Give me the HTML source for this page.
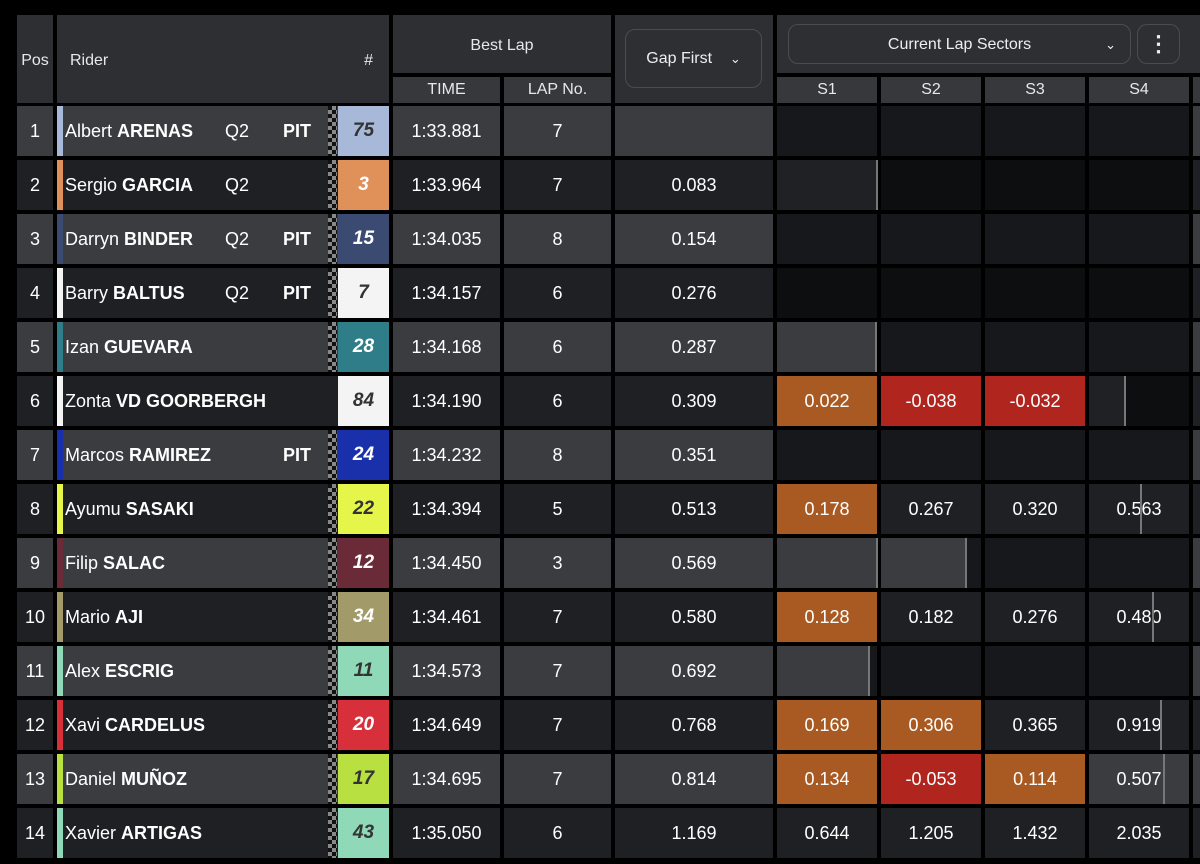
<!DOCTYPE html>
<html><head><meta charset="utf-8"><style>
*{margin:0;padding:0;box-sizing:border-box}
body{width:1200px;height:864px;background:#000;position:relative;overflow:hidden;font-family:"Liberation Sans",sans-serif;color:#fff}
.c{position:absolute;display:flex;align-items:center;justify-content:center;font-size:18px}
.h{background:#2d2f33;font-size:16px;color:#e8e8e8}
.hs{background:#36383c;font-size:16px;color:#e8e8e8}
.btn{position:absolute;border:1.5px solid #4a4c50;border-radius:10px;display:flex;align-items:center;justify-content:center;font-size:16px;color:#eee}
b{font-weight:700}
.num{font-style:italic;font-weight:700;font-size:19px}
.chk{position:absolute;width:9px;background-image:linear-gradient(45deg,#888 25%,transparent 25%,transparent 75%,#888 75%),linear-gradient(45deg,#888 25%,#111 25%,#111 75%,#888 75%);background-size:8px 8px;background-position:0 0,4px 4px}
.ln{position:absolute;width:2px;background:#777}
</style></head><body>
<div class="c h" style="left:17px;top:15px;width:36px;height:88px;padding-top:4px">Pos</div>
<div class="c h" style="left:57px;top:15px;width:332px;height:88px;justify-content:space-between;padding:4px 16px 0 13px"><span>Rider</span><span>#</span></div>
<div class="c h" style="left:393px;top:15px;width:218px;height:58px;padding-top:4px">Best Lap</div>
<div class="c hs" style="left:393px;top:77px;width:107px;height:26px">TIME</div>
<div class="c hs" style="left:504px;top:77px;width:107px;height:26px">LAP No.</div>
<div class="c h" style="left:615px;top:15px;width:158px;height:88px"></div>
<div class="btn" style="left:625px;top:29px;width:137px;height:59px">Gap First&nbsp;&nbsp;&nbsp;&nbsp;<span style="font-size:13px">&#8964;</span></div>
<div class="c h" style="left:777px;top:15px;width:423px;height:58px"></div>
<div class="btn" style="left:788px;top:24px;width:343px;height:40px;padding-top:2px">Current Lap Sectors<span style="position:absolute;right:14px;font-size:13px">&#8964;</span></div>
<div class="btn" style="left:1137px;top:24px;width:43px;height:40px;font-size:22px;font-weight:bold">&#8942;</div>
<div class="c hs" style="left:777px;top:77px;width:100px;height:26px">S1</div>
<div class="c hs" style="left:881px;top:77px;width:100px;height:26px">S2</div>
<div class="c hs" style="left:985px;top:77px;width:100px;height:26px">S3</div>
<div class="c hs" style="left:1089px;top:77px;width:100px;height:26px">S4</div>
<div class="c hs" style="left:1193px;top:77px;width:10px;height:26px"></div>
<div id="rows"></div>
<script>
const R=[
[1,"Albert","ARENAS","Q2","PIT","75","#a7b8d8","#333","1:33.881","7","",[["d"],["d"],["d"],["d"]],1],
[2,"Sergio","GARCIA","Q2","","3","#e0915a","#fff","1:33.964","7","0.083",[["p","#1f2125",100],["k"],["k"],["k"]],1],
[3,"Darryn","BINDER","Q2","PIT","15","#3a4a70","#fff","1:34.035","8","0.154",[["d"],["d"],["d"],["d"]],1],
[4,"Barry","BALTUS","Q2","PIT","7","#f4f4f4","#333","1:34.157","6","0.276",[["k"],["k"],["k"],["k"]],1],
[5,"Izan","GUEVARA","","","28","#2e7d88","#fff","1:34.168","6","0.287",[["p","#3a3c40",99],["d"],["d"],["d"]],1],
[6,"Zonta","VD GOORBERGH","","","84","#f4f4f4","#333","1:34.190","6","0.309",[["o","0.022"],["r","-0.038"],["r","-0.032"],["p2","#1f2125",36]],0],
[7,"Marcos","RAMIREZ","","PIT","24","#1a2faa","#fff","1:34.232","8","0.351",[["d"],["d"],["d"],["d"]],1],
[8,"Ayumu","SASAKI","","","22","#e5f54a","#333","1:34.394","5","0.513",[["o","0.178"],["t","0.267"],["t","0.320"],["t","0.563",51]],1],
[9,"Filip","SALAC","","","12","#6a2a38","#fff","1:34.450","3","0.569",[["p","#3a3c40",100],["p","#3a3c40",85],["d"],["d"]],1],
[10,"Mario","AJI","","","34","#a39a6a","#fff","1:34.461","7","0.580",[["o","0.128"],["t","0.182"],["t","0.276"],["t","0.480",63]],1],
[11,"Alex","ESCRIG","","","11","#8fd8b8","#333","1:34.573","7","0.692",[["p","#3a3c40",92],["d"],["d"],["d"]],1],
[12,"Xavi","CARDELUS","","","20","#d8303a","#fff","1:34.649","7","0.768",[["o","0.169"],["o","0.306"],["t","0.365"],["t","0.919",71]],1],
[13,"Daniel","MUÑOZ","","","17","#b8e040","#333","1:34.695","7","0.814",[["o","0.134"],["r","-0.053"],["o","0.114"],["tg","0.507",74]],1],
[14,"Xavier","ARTIGAS","","","43","#8fd8b8","#333","1:35.050","6","1.169",[["t","0.644"],["t","1.205"],["t","1.432"],["t","2.035"]],1]];
let h="";
R.forEach((r,i)=>{
 const y=106+i*54, H=50, bg=i%2==0?"#3a3c40":"#1e2024";
 const c=(x,w,s,st="")=>`<div class="c" style="left:${x}px;top:${y}px;width:${w}px;height:${H}px;background:${bg};${st}">${s}</div>`;
 h+=c(17,36,r[0]);
 h+=`<div class="c" style="left:57px;top:${y}px;width:271px;height:${H}px;background:${bg};justify-content:flex-start;padding-left:2px;border-left:6px solid ${r[6]}">${r[1]}&nbsp;<b>${r[2]}</b><span style="position:absolute;left:162px">${r[3]}</span><b style="position:absolute;left:220px">${r[4]}</b></div>`;
 h+=`<div style="position:absolute;left:328px;top:${y}px;width:10px;height:${H}px;background:${bg}"></div>`;
 if(r[12])h+=`<div class="chk" style="left:328px;top:${y}px;height:${H}px"></div>`;
 h+=`<div class="c num" style="left:338px;top:${y}px;width:51px;height:${H}px;background:${r[6]};color:${r[7]}">${r[5]}</div>`;
 h+=c(393,107,r[8])+c(504,107,r[9])+c(615,158,r[10]);
 r[11].forEach((s,j)=>{
  const x=777+j*104;let b="#17181b",t="",ex="";
  if(s[0]=="k")b="#0d0e10";
  if(s[0]=="o"){b="#a85a22";t=s[1]}
  if(s[0]=="r"){b="#b0251e";t=s[1]}
  if(s[0]=="t"||s[0]=="tg"){b=s[0]=="tg"?"#3a3c40":"#1e2024";t=s[1];if(s[2])ex=`<div class="ln" style="left:${x+s[2]}px;top:${y}px;height:${H}px"></div>`}
  if(s[0]=="p"||s[0]=="p2"){b=s[0]=="p2"?"#0d0e10":"#17181b";ex=`<div style="position:absolute;left:${x}px;top:${y}px;width:${s[2]}px;height:${H}px;background:${s[1]}"></div><div class="ln" style="left:${x+s[2]-1}px;top:${y}px;height:${H}px"></div>`}
  h+=`<div class="c" style="left:${x}px;top:${y}px;width:100px;height:${H}px;background:${b}">${t}</div>`+ex;
 });
 h+=`<div style="position:absolute;left:1193px;top:${y}px;width:10px;height:${H}px;background:${bg}"></div>`;
});
document.getElementById("rows").innerHTML=h;
</script>
</body></html>
